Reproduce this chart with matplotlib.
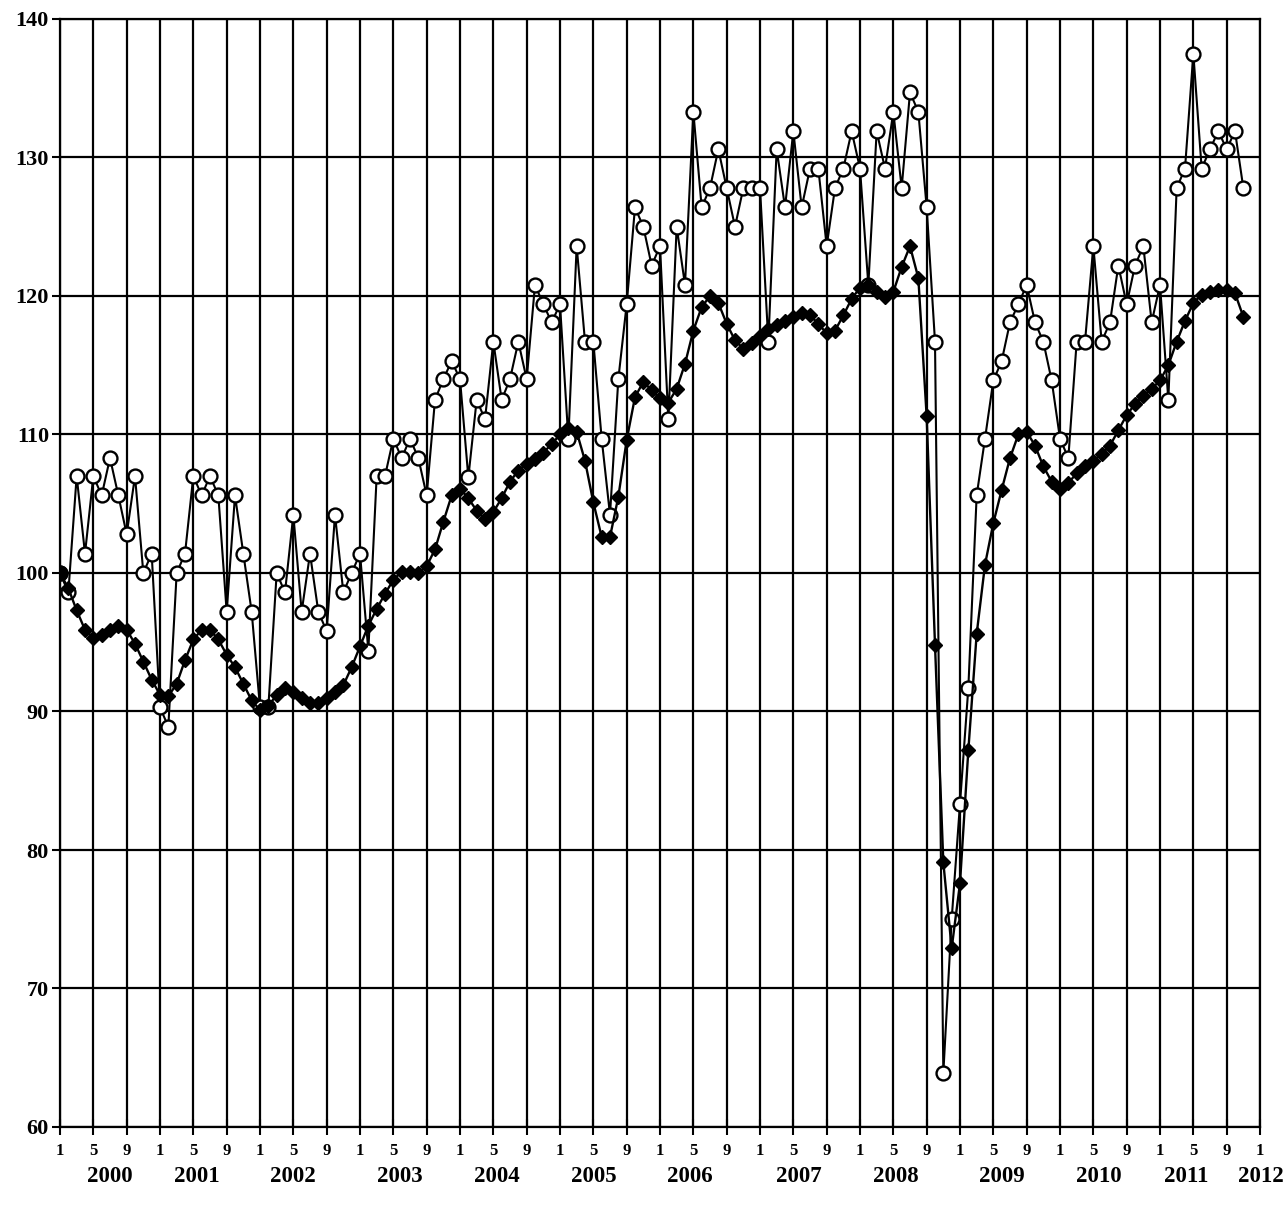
import matplotlib
matplotlib.use("Agg")
import matplotlib.pyplot as plt
import matplotlib.transforms as mtransforms
import numpy as np

# ── Data (monthly index, Jan 2000 = 100) ─────────────────────────────────────
monthly = [
    100, 98.6, 107, 101.4, 107, 105.6, 108.3, 105.6, 102.8, 107, 100, 101.4,
    90.3, 88.9, 100, 101.4, 107, 105.6, 107, 105.6, 97.2, 105.6, 101.4, 97.2,
    90.3, 90.3, 100, 98.6, 104.2, 97.2, 101.4, 97.2, 95.8, 104.2, 98.6, 100,
    101.4, 94.4, 107, 107, 109.7, 108.3, 109.7, 108.3, 105.6, 112.5, 114, 115.3,
    114, 106.9, 112.5, 111.1, 116.7, 112.5, 114, 116.7, 114, 120.8, 119.4, 118.1,
    119.4, 109.7, 123.6, 116.7, 116.7, 109.7, 104.2, 114, 119.4, 126.4, 125, 122.2,
    123.6, 111.1, 125, 120.8, 133.3, 126.4, 127.8, 130.6, 127.8, 125, 127.8, 127.8,
    127.8, 116.7, 130.6, 126.4, 131.9, 126.4, 129.2, 129.2, 123.6, 127.8, 129.2, 131.9,
    129.2, 120.8, 131.9, 129.2, 133.3, 127.8, 134.7, 133.3, 126.4, 116.7, 63.9, 75.0,
    83.3, 91.7, 105.6, 109.7, 113.9, 115.3, 118.1, 119.4, 120.8, 118.1, 116.7, 113.9,
    109.7, 108.3, 116.7, 116.7, 123.6, 116.7, 118.1, 122.2, 119.4, 122.2, 123.6, 118.1,
    120.8, 112.5, 127.8, 129.2, 137.5, 129.2, 130.6, 131.9, 130.6, 131.9, 127.8,
]

trend = [
    100, 98.9, 97.3, 95.9, 95.3, 95.5, 95.9, 96.2, 95.9, 94.9, 93.6, 92.3,
    91.2, 91.1, 92.0, 93.7, 95.2, 95.9, 95.9, 95.2, 94.1, 93.2, 92.0, 90.8,
    90.1, 90.4, 91.2, 91.7, 91.4, 91.0, 90.6, 90.6, 91.0, 91.4, 91.9, 93.2,
    94.7, 96.2, 97.4, 98.5, 99.5, 100.1, 100.1, 100.0, 100.5, 101.7, 103.7, 105.6,
    106.1, 105.4, 104.5, 103.9, 104.4, 105.4, 106.6, 107.4, 107.9, 108.2, 108.7, 109.3,
    110.0, 110.5, 110.2, 108.1, 105.1, 102.6, 102.6, 105.5, 109.6, 112.7, 113.8, 113.2,
    112.6, 112.3, 113.3, 115.1, 117.5, 119.2, 120.0, 119.5, 118.0, 116.8, 116.2, 116.6,
    117.1, 117.6, 117.9, 118.2, 118.5, 118.8, 118.6, 118.0, 117.3, 117.5, 118.6, 119.8,
    120.6, 120.8, 120.3, 119.9, 120.3, 122.1, 123.6, 121.3, 111.3, 94.8, 79.1, 72.9,
    77.6, 87.2, 95.6, 100.6, 103.6, 106.0, 108.3, 110.0, 110.2, 109.2, 107.7, 106.6,
    106.1, 106.5, 107.2, 107.7, 108.1, 108.6, 109.2, 110.3, 111.4, 112.2, 112.8, 113.3,
    113.9, 115.0, 116.7, 118.2, 119.5, 120.1, 120.3, 120.4, 120.4, 120.2, 118.5,
]

month_ticks  = list(range(0, 145, 4))
month_labels = ["1", "5", "9"] * 12 + ["1"]
years        = ["2000", "2001", "2002", "2003", "2004", "2005", "2006",
                "2007", "2008", "2009", "2010", "2011", "2012"]
year_pos     = [6.0, 16.4, 27.9, 40.8, 52.4, 64.0, 75.6,
                88.6, 100.3, 113.0, 124.6, 135.2, 144.1]

# ── Style ─────────────────────────────────────────────────────────────────────
plt.rcParams["font.family"] = ["Liberation Serif", "DejaVu Serif"]
plt.rcParams["font.weight"] = "bold"

fig = plt.figure(figsize=(12.84, 12.11), dpi=100)
ax = fig.add_axes([60 / 1284, 1 - 1127 / 1211, 1200 / 1284, 1108 / 1211])

x = np.arange(len(monthly))

ax.plot(x, monthly, color="black", lw=1.5, marker="o", ms=10,
        mfc="white", mec="black", mew=1.7, zorder=3)
ax.plot(x, trend, color="black", lw=1.7, marker="D", ms=7.5,
        mfc="black", mec="black", zorder=4)
# first point is drawn as a filled circle
ax.plot(x[:1], monthly[:1], "o", ms=10.5, color="black", zorder=5)

ax.set_xlim(0, 144)
ax.set_ylim(60, 140)
ax.set_yticks(range(60, 141, 10))
ax.set_xticks(month_ticks)
ax.set_xticklabels(month_labels, fontsize=12, fontweight="bold")
ax.tick_params(axis="x", direction="inout", length=11, width=1.5, pad=6)
ax.tick_params(axis="y", direction="out", length=6, width=1.5,
               labelsize=16, pad=2)

ax.grid(True, color="black", lw=1.6)
ax.set_axisbelow(True)
for sp in ax.spines.values():
    sp.set_linewidth(1.6)
    sp.set_color("black")

trans = mtransforms.blended_transform_factory(ax.transData, ax.transAxes)
for yr, xp in zip(years, year_pos):
    ax.text(xp, -0.045, yr, transform=trans, ha="center", va="center",
            fontsize=16.5, fontweight="bold")

fig.savefig("out.png", dpi=100)
